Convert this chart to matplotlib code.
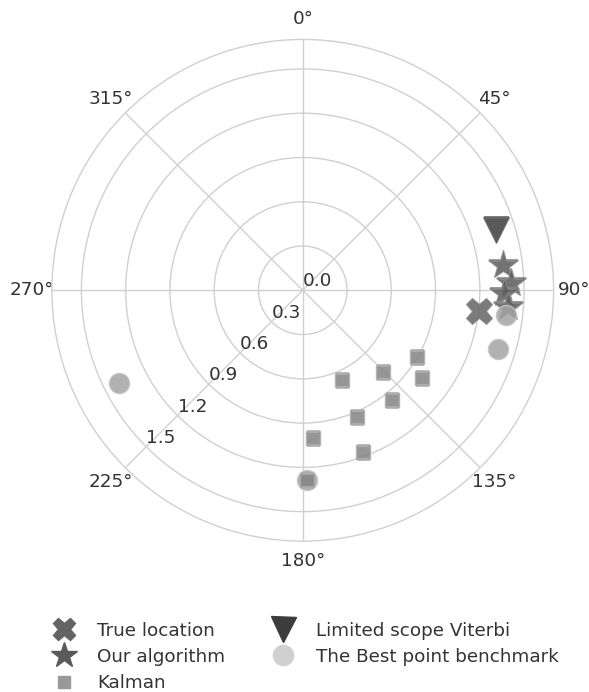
import numpy as np
import matplotlib
matplotlib.use("Agg")
import matplotlib.pyplot as plt
from matplotlib.lines import Line2D

plt.rcParams['font.family'] = ['DejaVu Sans']
plt.rcParams['text.color'] = '#333333'
plt.rcParams['xtick.color'] = '#333333'
plt.rcParams['ytick.color'] = '#333333'

#%% estimates (bearing in degrees, range)
true_theta = [96.8]
true_r = [1.205]

ours_theta = [82.9, 88.1, 90.9, 94.8]
ours_r = [1.371, 1.409, 1.361, 1.393]

viterbi_theta = [72.7]
viterbi_r = [1.375]

best_theta = [97.0, 106.6, 243.1, 178.8]
best_r = [1.391, 1.384, 1.396, 1.286]

kalman_theta = [120.1, 135.4, 156.3, 126.2, 140.8, 156.8, 176.1, 159.6, 178.8]
kalman_r = [0.896, 0.774, 0.661, 1.003, 0.957, 0.933, 1.002, 1.169, 1.286]

r_ticks = [0.0, 0.3, 0.6, 0.9, 1.2, 1.5]
r_max = 1.7

#%% figure
fig = plt.figure(figsize=(5.89, 6.92), dpi=100)
ax = fig.add_axes([0.088, 0.218, 0.852, 0.725], projection='polar')
ax.set_theta_zero_location('N')
ax.set_theta_direction(-1)

grid_c = '#d0d0d0'
ax.grid(True, color=grid_c, linewidth=1)
ax.spines['polar'].set_color(grid_c)
ax.spines['polar'].set_linewidth(1)
ax.set_facecolor('white')

a = 0.85
ax.plot(np.radians(true_theta), true_r, ls='none', marker='X', ms=19,
        color='#646464', mec='#8a8a8a', mew=0.8, alpha=a, zorder=3)
ax.plot(np.radians(ours_theta), ours_r, ls='none', marker='*', ms=22,
        color='#5a5a5a', mec='#8a8a8a', mew=0.8, alpha=a, zorder=3)
ax.plot(np.radians(viterbi_theta), viterbi_r, ls='none', marker='v', ms=19,
        color='#3c3c3c', mec='#6a6a6a', mew=0.8, alpha=a, zorder=3)
ax.plot(np.radians(best_theta), best_r, ls='none', marker='o', ms=14.5,
        color='#a4a4a4', mec='#c4c4c4', mew=1, alpha=a, zorder=3)
ax.plot(np.radians(kalman_theta), kalman_r, ls='none', marker='s', ms=10,
        color='#848484', mec='#b0b0b0', mew=1, alpha=a, zorder=4)

ax.set_ylim(0, r_max)
ax.set_rticks(r_ticks)
ax.set_yticklabels(['%.1f' % t for t in r_ticks], fontsize=13.2)
ax.set_rlabel_position(225)
ax.set_thetagrids(np.arange(0, 360, 45), ['%d°' % d for d in range(0, 360, 45)], fontsize=13.2)
ax.tick_params(axis='x', pad=4)

#%% legend
handles = [
    Line2D([], [], ls='none', marker='X', ms=16, color='#646464'),
    Line2D([], [], ls='none', marker='*', ms=19, color='#5a5a5a'),
    Line2D([], [], ls='none', marker='s', ms=9, color='#999999'),
    Line2D([], [], ls='none', marker='v', ms=18, color='#3c3c3c'),
    Line2D([], [], ls='none', marker='o', ms=14.5, color='#d0d0d0'),
]
labels = ['True location', 'Our algorithm', 'Kalman',
          'Limited scope Viterbi', 'The Best point benchmark']
fig.legend(handles, labels, ncol=2, loc='upper left', bbox_to_anchor=(0.072, 0.115),
           frameon=False, fontsize=13.2, labelspacing=0.45, handlelength=1.4,
           handletextpad=1.1, columnspacing=2.43, borderpad=0)

fig.savefig('out.png', dpi=100)
